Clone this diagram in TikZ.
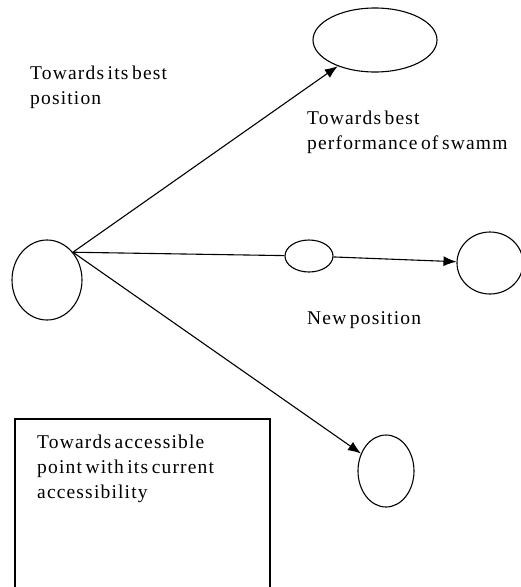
\documentclass[tikz,border=0pt]{standalone}
\usepackage{fontspec}
\setmainfont{Liberation Serif}[LetterSpace=6,WordSpace=0.6]
\usetikzlibrary{shapes.geometric,arrows.meta}
\begin{document}
\begin{tikzpicture}[x=1pt,y=-1pt,
  every node/.style={font=\fontsize{19.5}{25}\selectfont},
  oval/.style={draw,line width=1.1pt,ellipse,inner sep=0pt},
  lbl/.style={align=left,anchor=base west,inner sep=0pt},
  conn/.style={line width=1.1pt},
  arr/.style={line width=1.1pt,-{Latex[length=13pt,width=10pt]}}]
\useasboundingbox (0,0) rectangle (521,587);
\node[oval,minimum width=70pt,minimum height=80pt] (L) at (47,280) {};
\node[oval,minimum width=124pt,minimum height=64pt] (T) at (375,40) {};
\node[oval,minimum width=48pt,minimum height=32pt] (M) at (309,256) {};
\node[oval,minimum width=66pt,minimum height=62pt] (R) at (490,263) {};
\node[oval,minimum width=56pt,minimum height=72pt] (B) at (386,471) {};
\coordinate (s) at (L.47);
\draw[arr] (s) -- (T);
\draw[conn] (s) -- (M);
\draw[arr] (M) -- (R);
\draw[arr] (s) -- (B);
\draw[line width=1.1pt] (15,600) |- (270,419) -- (270,600);
\node[lbl] (t1) at (30,104) {Towards its best\\position};
\node[lbl] (t2) at (307,149) {Towards best\\performance of swamm};
\node[lbl] (t3) at (307,324) {New position};
\node[lbl] (t4) at (37,498) {Towards accessible\\point with its current\\accessibility};
\end{tikzpicture}
\end{document}
